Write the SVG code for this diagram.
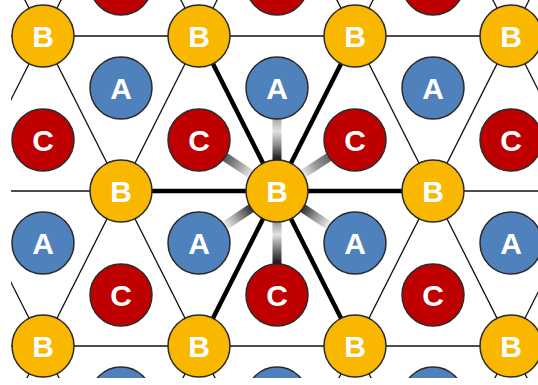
<svg xmlns="http://www.w3.org/2000/svg" width="538" height="385" viewBox="0 0 538 385">
<defs>
<style>
.thin{stroke:#111;stroke-width:1.3;fill:none}
.thick{stroke:#000;stroke-width:4.5;stroke-linecap:butt}
.bar{stroke-width:9}
.b circle{fill:#F9B700;stroke:#2a2a2a;stroke-width:1.5}
.a circle{fill:#4F81BD;stroke:#2a2a2a;stroke-width:1.5}
.c circle{fill:#BF0000;stroke:#2a2a2a;stroke-width:1.5}
text{font-family:"Liberation Sans",Arial,sans-serif;font-weight:bold;font-size:30px;fill:#fff;text-anchor:middle}
</style>
<clipPath id="clip"><rect x="11" y="0" width="527" height="378"/></clipPath>
<linearGradient id="gUp" gradientUnits="userSpaceOnUse" x1="277" y1="119" x2="277" y2="160">
<stop offset="0" stop-color="#a8a8a8"/><stop offset="0.3" stop-color="#e2e2e2"/><stop offset="0.65" stop-color="#888"/><stop offset="1" stop-color="#111"/>
</linearGradient>
<linearGradient id="gDown" gradientUnits="userSpaceOnUse" x1="277" y1="222" x2="277" y2="264">
<stop offset="0" stop-color="#999"/><stop offset="0.3" stop-color="#e2e2e2"/><stop offset="0.7" stop-color="#666"/><stop offset="1" stop-color="#111"/>
</linearGradient>
<linearGradient id="gUL" gradientUnits="userSpaceOnUse" x1="225" y1="157" x2="251" y2="174">
<stop offset="0" stop-color="#555"/><stop offset="0.5" stop-color="#999"/><stop offset="1" stop-color="#e8e8e8"/>
</linearGradient>
<linearGradient id="gUR" gradientUnits="userSpaceOnUse" x1="329" y1="157" x2="303" y2="174">
<stop offset="0" stop-color="#666"/><stop offset="0.5" stop-color="#999"/><stop offset="1" stop-color="#e8e8e8"/>
</linearGradient>
<linearGradient id="gLL" gradientUnits="userSpaceOnUse" x1="251" y1="208" x2="225" y2="226">
<stop offset="0" stop-color="#333"/><stop offset="0.5" stop-color="#999"/><stop offset="1" stop-color="#eee"/>
</linearGradient>
<linearGradient id="gLR" gradientUnits="userSpaceOnUse" x1="303" y1="208" x2="329" y2="226">
<stop offset="0" stop-color="#333"/><stop offset="0.5" stop-color="#999"/><stop offset="1" stop-color="#eee"/>
</linearGradient>
</defs>
<rect width="538" height="385" fill="#fff"/>
<g clip-path="url(#clip)">
<g id="connectors">
<g class="thin">
<line x1="0" y1="36" x2="538" y2="36"/>
<line x1="0" y1="191" x2="538" y2="191"/>
<line x1="0" y1="346" x2="538" y2="346"/>
<line x1="-191" y1="-119" x2="121" y2="501"/>
<line x1="-35" y1="-119" x2="277" y2="501"/>
<line x1="121" y1="-119" x2="433" y2="501"/>
<line x1="277" y1="-119" x2="589" y2="501"/>
<line x1="433" y1="-119" x2="745" y2="501"/>
<line x1="-347" y1="-119" x2="-35" y2="501"/>
<line x1="121" y1="-119" x2="-191" y2="501"/>
<line x1="277" y1="-119" x2="-35" y2="501"/>
<line x1="433" y1="-119" x2="121" y2="501"/>
<line x1="589" y1="-119" x2="277" y2="501"/>
<line x1="745" y1="-119" x2="433" y2="501"/>
<line x1="901" y1="-119" x2="589" y2="501"/>
</g>
<line class="bar" x1="277" y1="191" x2="277" y2="88" stroke="url(#gUp)"/>
<line class="bar" x1="277" y1="191" x2="277" y2="295" stroke="url(#gDown)"/>
<line class="bar" x1="277" y1="191" x2="199" y2="140" stroke="url(#gUL)"/>
<line class="bar" x1="277" y1="191" x2="355" y2="140" stroke="url(#gUR)"/>
<line class="bar" x1="277" y1="191" x2="199" y2="243" stroke="url(#gLL)"/>
<line class="bar" x1="277" y1="191" x2="355" y2="243" stroke="url(#gLR)"/>
<line class="thick" x1="277" y1="191" x2="199" y2="36"/>
<line class="thick" x1="277" y1="191" x2="355" y2="36"/>
<line class="thick" x1="277" y1="191" x2="121" y2="191"/>
<line class="thick" x1="277" y1="191" x2="433" y2="191"/>
<line class="thick" x1="277" y1="191" x2="199" y2="346"/>
<line class="thick" x1="277" y1="191" x2="355" y2="346"/>
</g>
<g id="c1" class="c"><circle cx="121" cy="-16" r="31"/></g>
<g id="c2" class="c"><circle cx="277" cy="-16" r="31"/></g>
<g id="c3" class="c"><circle cx="433" cy="-16" r="31"/></g>
<g id="b1" class="b"><circle cx="43" cy="36" r="31"/><text x="43" y="47">B</text></g>
<g id="b2" class="b"><circle cx="199" cy="36" r="31"/><text x="199" y="47">B</text></g>
<g id="b3" class="b"><circle cx="355" cy="36" r="31"/><text x="355" y="47">B</text></g>
<g id="b4" class="b"><circle cx="511" cy="36" r="31"/><text x="511" y="47">B</text></g>
<g id="a1" class="a"><circle cx="121" cy="88" r="31"/><text x="121" y="99">A</text></g>
<g id="a2" class="a"><circle cx="277" cy="88" r="31"/><text x="277" y="99">A</text></g>
<g id="a3" class="a"><circle cx="433" cy="88" r="31"/><text x="433" y="99">A</text></g>
<g id="c4" class="c"><circle cx="43" cy="140" r="31"/><text x="43" y="151">C</text></g>
<g id="c5" class="c"><circle cx="199" cy="140" r="31"/><text x="199" y="151">C</text></g>
<g id="c6" class="c"><circle cx="355" cy="140" r="31"/><text x="355" y="151">C</text></g>
<g id="c7" class="c"><circle cx="511" cy="140" r="31"/><text x="511" y="151">C</text></g>
<g id="b5" class="b"><circle cx="121" cy="191" r="31"/><text x="121" y="202">B</text></g>
<g id="b6" class="b"><circle cx="277" cy="191" r="31"/><text x="277" y="202">B</text></g>
<g id="b7" class="b"><circle cx="433" cy="191" r="31"/><text x="433" y="202">B</text></g>
<g id="a4" class="a"><circle cx="43" cy="243" r="31"/><text x="43" y="254">A</text></g>
<g id="a5" class="a"><circle cx="199" cy="243" r="31"/><text x="199" y="254">A</text></g>
<g id="a6" class="a"><circle cx="355" cy="243" r="31"/><text x="355" y="254">A</text></g>
<g id="a7" class="a"><circle cx="511" cy="243" r="31"/><text x="511" y="254">A</text></g>
<g id="c8" class="c"><circle cx="121" cy="295" r="31"/><text x="121" y="306">C</text></g>
<g id="c9" class="c"><circle cx="277" cy="295" r="31"/><text x="277" y="306">C</text></g>
<g id="c10" class="c"><circle cx="433" cy="295" r="31"/><text x="433" y="306">C</text></g>
<g id="b8" class="b"><circle cx="43" cy="346" r="31"/><text x="43" y="357">B</text></g>
<g id="b9" class="b"><circle cx="199" cy="346" r="31"/><text x="199" y="357">B</text></g>
<g id="b10" class="b"><circle cx="355" cy="346" r="31"/><text x="355" y="357">B</text></g>
<g id="b11" class="b"><circle cx="511" cy="346" r="31"/><text x="511" y="357">B</text></g>
<g id="a8" class="a"><circle cx="121" cy="398" r="31"/></g>
<g id="a9" class="a"><circle cx="277" cy="398" r="31"/></g>
<g id="a10" class="a"><circle cx="433" cy="398" r="31"/></g>
</g>
</svg>
